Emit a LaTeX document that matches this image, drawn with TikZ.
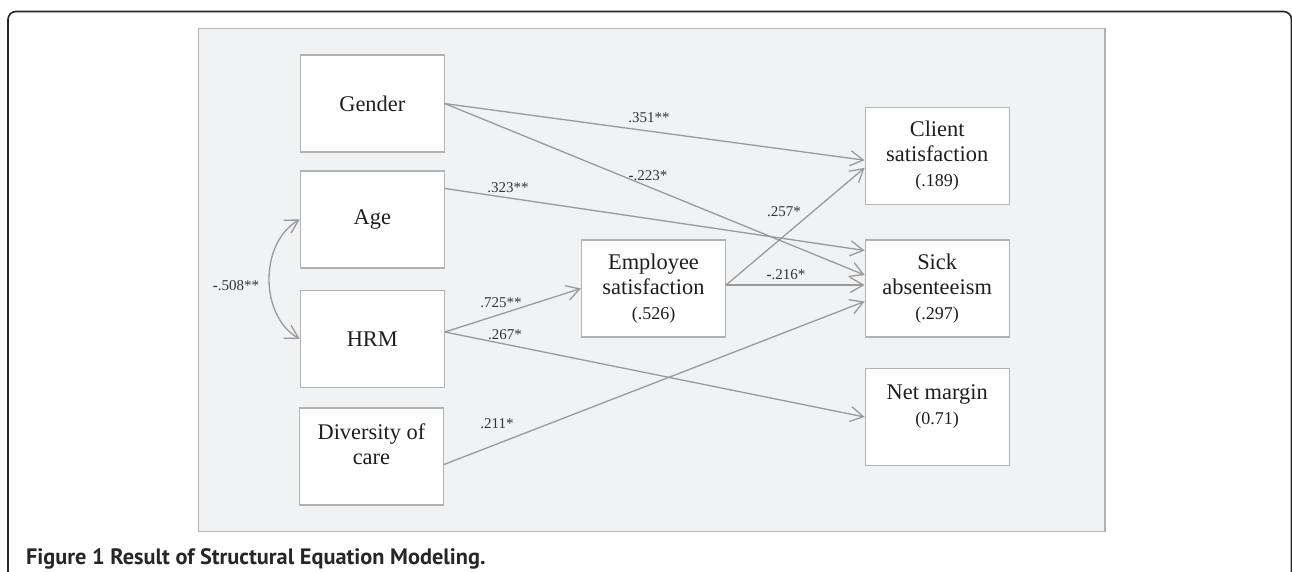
\documentclass[tikz,border=0pt]{standalone}
\usepackage{fontspec}
\setmainfont{Liberation Serif}
\newfontfamily\capfont{PT Sans}
\usetikzlibrary{arrows.meta}

\definecolor{panelgray}{HTML}{F1F2F4}
\definecolor{linegray}{HTML}{9A9A9A}
\definecolor{boxgray}{HTML}{B2B2B2}
\definecolor{textgray}{HTML}{1E1E1E}

\newcommand\rsq[1]{{\fontsize{9}{12.5}\selectfont #1}}

\tikzset{
  var/.style={draw=boxgray, line width=0.6pt, fill=white, minimum width=72pt,
    minimum height=48.5pt, inner sep=0pt, align=center, text=textgray,
    font=\fontsize{11.2}{12.5}\selectfont},
  link/.style={draw=linegray, line width=0.65pt, ->},
  coef/.style={inner sep=0pt, text=textgray!90, font=\fontsize{7.5}{9}\selectfont}
}

\begin{document}
\begin{tikzpicture}[x=0.5pt, y=-0.5pt, >={Straight Barb[length=6.5pt,width=7.5pt]}]
  \useasboundingbox (0,0) rectangle (1292,572);
  \draw[black!85, line width=0.8pt, rounded corners=4pt] (8,572) -- (8,11.5) -- (1291.5,11.5) -- (1291.5,572);
  \draw[fill=panelgray, draw=boxgray, line width=0.75pt] (198.7,28.3) rectangle (1105,531.7);

  % variables
  \node[var] (gender) at (372.3,103.6) {Gender};
  \node[var] (age) at (372.3,219.5) {Age};
  \node[var] (hrm) at (372.3,339) {HRM};
  \node[var] (diversity) at (371.4,456.5) {Diversity of\\care\\\mbox{}};
  \node[var] (employee) at (653.5,288.5) {Employee\\satisfaction\\\rsq{(.526)}};
  \node[var] (client) at (937.2,155.8) {Client\\satisfaction\\\rsq{(.189)}};
  \node[var] (sick) at (937.2,288.5) {Sick\\absenteeism\\\rsq{(.297)}};
  \node[var] (margin) at (937.2,417) {Net margin\\\rsq{(0.71)}\\\mbox{}};

  % paths
  \draw[link] (gender.east) -- ([yshift=-2.2pt]client.west);
  \draw[link] (gender.east) -- ([yshift=6.75pt]sick.west);
  \draw[link] ([yshift=15.5pt]age.east) -- ([yshift=19pt]sick.west);
  \draw[link] ([yshift=3.5pt]hrm.east) -- (employee.west);
  \draw[link] ([yshift=3.5pt]hrm.east) -- (margin.west);
  \draw[link] ([yshift=1.75pt]employee.east) -- ([yshift=-6pt]client.west);
  \draw[link] ([yshift=1.75pt]employee.east) -- ([yshift=1.75pt]sick.west);
  \draw[link] ([yshift=-4pt]diversity.east) -- ([yshift=-6.5pt]sick.west);
  \draw[link, <->] (age.west) to[bend right=60] (hrm.west);

  % coefficients
  \node[coef] (gc) at (649,118) {.351**};
  \node[coef] (gs) at (648,176) {{\bfseries -}.223*};
  \node[coef] (as) at (508,187.7) {.323**};
  \node[coef] (ec) at (784,211.7) {.257*};
  \node[coef] (es) at (786,275) {{\bfseries -}.216*};
  \node[coef] (ah) at (236,286) {{\bfseries -}.508**};
  \node[coef] (he) at (501,302.3) {.725**};
  \node[coef] (hm) at (505,335) {.267*};
  \node[coef] (ds) at (497,424) {.211*};

  \node[anchor=base west, inner sep=0pt, text=black!85, font=\capfont\bfseries\fontsize{11.15}{13}\selectfont] (caption) at (25.7,564) {Figure 1 Result of Structural Equation Modeling.};
\end{tikzpicture}
\end{document}
